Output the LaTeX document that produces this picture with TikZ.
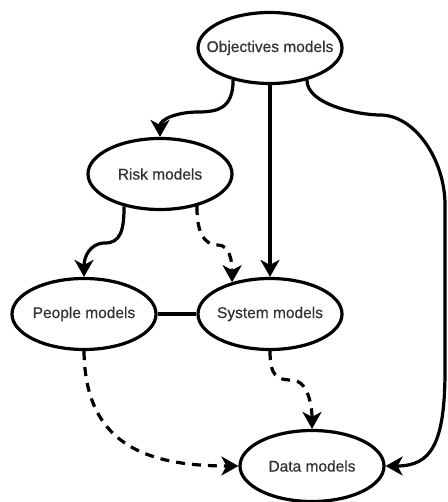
\documentclass[tikz,border=0pt]{standalone}
\usepackage{fontspec}
\setmainfont{Liberation Sans}
\newfontfamily\modelfont[FakeBold=0.6]{Liberation Sans}
\usetikzlibrary{arrows.meta,shapes.geometric}

\begin{document}
\begin{tikzpicture}[x=1pt,y=-1pt,
  model/.style={ellipse,draw,line width=3.2pt,minimum width=144pt,minimum height=71pt,inner sep=0pt,
    font=\modelfont\fontsize{15.5}{18}\selectfont,text=black!80},
  link/.style={line width=3.2pt},
  arr/.style={link,-{Stealth[length=17pt,width=19pt,inset=5pt]}},
  dasharr/.style={arr,dash pattern=on 9pt off 7pt}]
\useasboundingbox (0,0) rectangle (447,502);
\node[model] (obj) at (270,48) {\makebox[0pt]{Objectives models}};
\node[model] (risk) at (160,174) {\makebox[0pt]{Risk models}};
\node[model] (people) at (84,314) {\makebox[0pt]{People models}};
\node[model] (sys) at (270,314) {\makebox[0pt]{System models}};
\node[model] (data) at (312,466) {\makebox[0pt]{Data models}};
\draw[arr] (obj.221) .. controls +(0,28) and +(20,0) .. (198,112) .. controls +(-20,0) and +(0,-18) .. (risk.north);
\draw[arr] (obj.south) -- (sys.north);
\draw[arr] (obj.319) .. controls +(0,25) and +(-20,0) .. (380,115) .. controls +(35,0) and +(0,-45) .. (445,205)
  -- (445,370) .. controls +(0,75) and +(45,0) .. (data.east);
\draw[arr] (risk.222) .. controls +(0,25) and +(15,0) .. (105,243) .. controls +(-15,0) and +(0,-20) .. (people.north);
\draw[dasharr] (risk.319) .. controls +(0,25) and +(-15,0) .. (218,245) .. controls +(12,0) and +(0,-20) .. (sys.140);
\draw[link] (people.east) -- (sys.west);
\draw[dasharr] (sys.south) .. controls +(0,25) and +(-15,0) .. (292,380) .. controls +(15,0) and +(0,-25) .. (data.north);
\draw[dasharr] (people.south) .. controls (85,440) and (140,466) .. (data.west);
\end{tikzpicture}
\end{document}
